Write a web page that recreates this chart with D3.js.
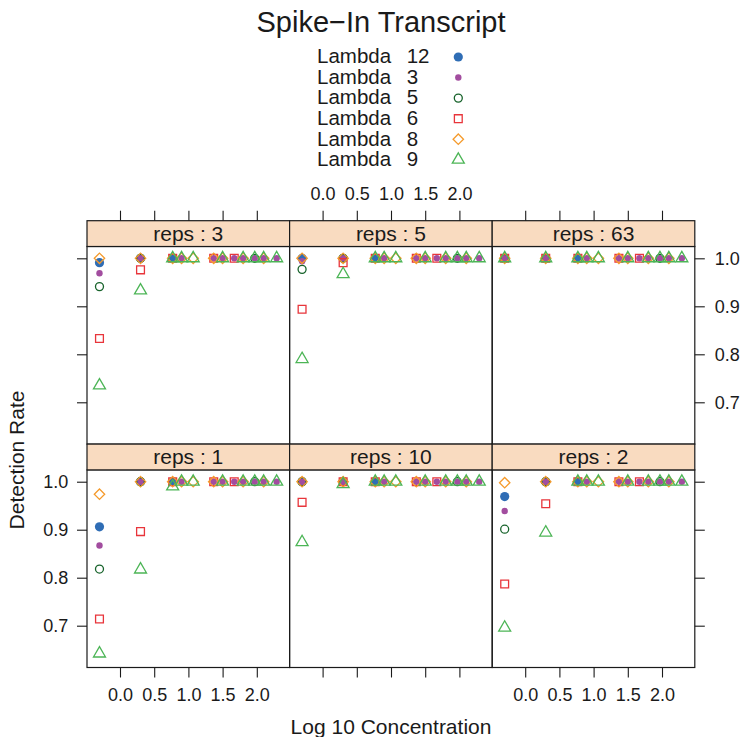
<!DOCTYPE html>
<html>
<head>
<meta charset="utf-8">
<script src="https://cdn.jsdelivr.net/npm/d3@7"></script>
<style>
  body { margin: 0; background: #fff; }
  text { font-family: "Liberation Sans", Arial, Helvetica, sans-serif; fill: #1a1a1a; }
</style>
</head>
<body>
<svg id="chart" width="741" height="737"></svg>
<script>
// log10 concentration of each spike-in level
const concentration = [-0.30, 0.30, 0.77, 0.90, 1.07, 1.37, 1.50, 1.67, 1.80, 1.97, 2.10, 2.29];
const transcriptNames = ["Lambda", "Lambda", "Lambda", "Lambda", "Lambda", "Lambda"];
const transcriptIds = ["12", "3", "5", "6", "8", "9"];
const xTicks = [0, 0.5, 1.0, 1.5, 2.0];
const yTicks = [0.7, 0.8, 0.9, 1.0];
const _ = null;

// detection rate per transcript (rows: Lambda 12, 3, 5, 6, 8, 9) across concentrations
const reps1 = [
  [0.906, 1, 1, _, _, _, _, _, _, _, _, _],
  [0.867, 1, _, 1, _, 1, 1, 1, 1, 1, 1, 1],
  [0.818, 1, _, _, _, _, _, _, _, 1, _, _],
  [0.714, 0.896, 1, _, _, 1, _, 1, _, _, _, _],
  [0.974, 1, 1, 1, 1, 1, 1, _, 1, _, 1, _],
  [0.642, 0.817, 0.990, 1, 1, _, 1, _, 1, 1, 1, 1]
];
const reps10 = [
  [1, 1, 1, _, _, _, _, _, _, _, _, _],
  [1, 1, _, 1, _, 1, 1, 1, 1, 1, 1, 1],
  [1, 1, _, _, _, _, _, _, _, 1, _, _],
  [0.957, 1, 1, _, _, 1, _, 1, _, _, _, _],
  [1, 1, 1, 1, 1, 1, 1, _, 1, _, 1, _],
  [0.874, 0.995, 1, 1, 1, _, 1, _, 1, 1, 1, 1]
];
const reps2 = [
  [0.969, 1, 1, _, _, _, _, _, _, _, _, _],
  [0.939, 1, _, 1, _, 1, 1, 1, 1, 1, 1, 1],
  [0.901, 1, _, _, _, _, _, _, _, 1, _, _],
  [0.787, 0.954, 1, _, _, 1, _, 1, _, _, _, _],
  [0.998, 1, 1, 1, 1, 1, 1, _, 1, _, 1, _],
  [0.696, 0.894, 1, 1, 1, _, 1, _, 1, 1, 1, 1]
];
const reps3 = [
  [0.991, 1, 1, _, _, _, _, _, _, _, _, _],
  [0.969, 1, _, 1, _, 1, 1, 1, 1, 1, 1, 1],
  [0.941, 1, _, _, _, _, _, _, _, 1, _, _],
  [0.833, 0.976, 1, _, _, 1, _, 1, _, _, _, _],
  [1, 1, 1, 1, 1, 1, 1, _, 1, _, 1, _],
  [0.735, 0.933, 1, 1, 1, _, 1, _, 1, 1, 1, 1]
];
const reps5 = [
  [1, 1, 1, _, _, _, _, _, _, _, _, _],
  [0.994, 1, _, 1, _, 1, 1, 1, 1, 1, 1, 1],
  [0.977, 1, _, _, _, _, _, _, _, 1, _, _],
  [0.894, 0.991, 1, _, _, 1, _, 1, _, _, _, _],
  [1, 1, 1, 1, 1, 1, 1, _, 1, _, 1, _],
  [0.790, 0.967, 1, 1, 1, _, 1, _, 1, 1, 1, 1]
];
const reps63 = [
  [1, 1, 1, _, _, _, _, _, _, _, _, _],
  [1, 1, _, 1, _, 1, 1, 1, 1, 1, 1, 1],
  [1, 1, _, _, _, _, _, _, _, 1, _, _],
  [1, 1, 1, _, _, 1, _, 1, _, _, _, _],
  [1, 1, 1, 1, 1, 1, 1, _, 1, _, 1, _],
  [1, 1, 1, 1, 1, _, 1, _, 1, 1, 1, 1]
];

// panels laid out top row first, left to right
const panelLabels = ["3", "5", "63", "1", "10", "2"];
const panelData = [reps3, reps5, reps63, reps1, reps10, reps2];

// ---- styling of the six transcript symbols ----
const colors = ["#2f6db5", "#a24d9f", "#17632b", "#e8353b", "#f59a2b", "#4cb556"];
const symbolPath = [
  () => circlePath(4.6),
  () => circlePath(3.2),
  () => circlePath(4.0),
  () => "M-3.9,-3.9H3.9V3.9H-3.9Z",
  () => "M0,-5.2L5.2,0L0,5.2L-5.2,0Z",
  () => "M0,-6.9L6,3.45L-6,3.45Z"
];
const filled = [true, true, false, false, false, false];
function circlePath(r) {
  return `M${r},0A${r},${r} 0 1,1 ${-r},0A${r},${r} 0 1,1 ${r},0Z`;
}

const svg = d3.select("#chart");
const ink = "#1a1a1a";

// ---- layout ----
const gridLeft = 87, colW = 202.6;
const gridTop = 220.7, stripH = 25.8, panelH = 197.6, rowH = stripH + panelH;

const x = d3.scaleLinear().domain([-0.4825, 2.4795]).range([0, colW]);
const y = d3.scaleLinear().domain([0.6129, 1.0246]).range([panelH, 0]);
const fmt = d3.format(".1f");

// title
svg.append("text").attr("x", 381).attr("y", 32).attr("text-anchor", "middle")
  .style("font-size", "29px").text("Spike\u2212In Transcript");

// legend
transcriptIds.forEach((id, i) => {
  const by = 63.3 + i * 20.55;
  const t = svg.append("text").attr("y", by).style("font-size", "20.5px");
  t.append("tspan").attr("x", 317).text(transcriptNames[i]);
  t.append("tspan").attr("x", 406.7).text(id);
  svg.append("path")
    .attr("transform", `translate(458.3,${by - 6.3})`)
    .attr("d", symbolPath[i]())
    .attr("fill", filled[i] ? colors[i] : "none")
    .attr("stroke", filled[i] ? "none" : colors[i])
    .attr("stroke-width", 1.3);
});

// panels
panelData.forEach((rows, p) => {
  const col = p % 3, row = Math.floor(p / 3);
  const px = gridLeft + col * colW;
  const sy = gridTop + row * rowH;
  const py = sy + stripH;
  const g = svg.append("g").attr("transform", `translate(${px},${py})`);

  // strip
  svg.append("rect").attr("x", px).attr("y", sy).attr("width", colW).attr("height", stripH)
    .attr("fill", "#f9dbc0").attr("stroke", ink).attr("stroke-width", 1.2);
  svg.append("text").attr("x", px + colW / 2).attr("y", sy + 20).attr("text-anchor", "middle")
    .style("font-size", "21px").text("reps : " + panelLabels[p]);

  // points, one transcript at a time
  rows.forEach((vals, k) => {
    const pts = vals.map((v, j) => ({ x: concentration[j], y: v })).filter(d => d.y !== null);
    g.selectAll(null).data(pts).enter().append("path")
      .attr("transform", d => `translate(${x(d.x)},${y(d.y)})`)
      .attr("d", symbolPath[k]())
      .attr("fill", filled[k] ? colors[k] : "none")
      .attr("stroke", filled[k] ? "none" : colors[k])
      .attr("stroke-width", 1.3);
  });

  // panel border
  g.append("rect").attr("width", colW).attr("height", panelH)
    .attr("fill", "none").attr("stroke", ink).attr("stroke-width", 1.2);

  // axes (alternating labels as in a lattice layout)
  const styleAxis = a => {
    a.select(".domain").remove();
    a.selectAll("line").attr("stroke", ink).attr("stroke-width", 1.1);
    a.selectAll("text").style("font-size", "18px").attr("fill", ink)
      .style("font-family", '"Liberation Sans", Arial, sans-serif');
  };
  if (row === 0) {
    const a = svg.append("g").attr("transform", `translate(${px},${sy})`)
      .call(d3.axisTop(x).tickValues(xTicks).tickSize(10).tickPadding(10.5)
        .tickFormat(col === 1 ? fmt : () => ""));
    styleAxis(a);
  } else {
    const a = svg.append("g").attr("transform", `translate(${px},${py + panelH})`)
      .call(d3.axisBottom(x).tickValues(xTicks).tickSize(10).tickPadding(10.5)
        .tickFormat(col !== 1 ? fmt : () => ""));
    styleAxis(a);
  }
  if (col === 0) {
    const a = svg.append("g").attr("transform", `translate(${px},${py})`)
      .call(d3.axisLeft(y).tickValues(yTicks).tickSize(10).tickPadding(8.7)
        .tickFormat(row === 1 ? fmt : () => ""));
    styleAxis(a);
  }
  if (col === 2) {
    const a = svg.append("g").attr("transform", `translate(${px + colW},${py})`)
      .call(d3.axisRight(y).tickValues(yTicks).tickSize(10).tickPadding(10)
        .tickFormat(row === 0 ? fmt : () => ""));
    styleAxis(a);
  }
});

// axis titles
svg.append("text").attr("x", 391).attr("y", 733.5).attr("text-anchor", "middle")
  .style("font-size", "21px").text("Log 10 Concentration");
svg.append("text").attr("transform", "translate(24,460) rotate(-90)").attr("text-anchor", "middle")
  .style("font-size", "21px").text("Detection Rate");
</script>
</body>
</html>
